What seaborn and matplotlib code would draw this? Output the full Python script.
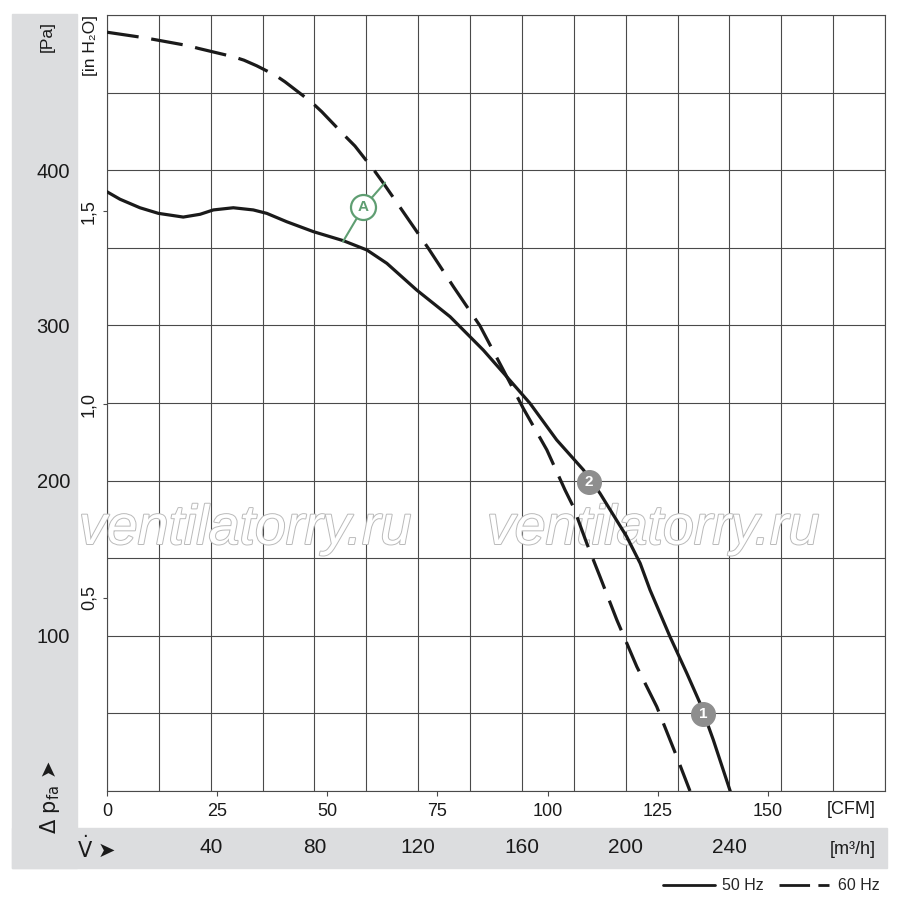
import numpy as np
import pandas as pd
import matplotlib
matplotlib.use("Agg")
import matplotlib.pyplot as plt
import matplotlib.patheffects as pe
from matplotlib.lines import Line2D
from matplotlib.patches import Rectangle
import seaborn as sns

# 50 Hz curve (solid), flow in m3/h, pressure in Pa
flow_50 = [0, 5.0, 12.7, 19.8, 29.4, 35.9, 41.0, 48.7, 56.4, 61.6, 69.3, 79.6,
           91.1, 100.2, 107.9, 119.4, 132.3, 145.1, 152.8, 163.1, 173.4, 183.7,
           190.1, 200.4, 205.6, 209.4, 217.1, 223.6, 228.7, 233.8, 240.3]
dp_50 = [386.1, 381.3, 375.8, 372.2, 369.8, 371.6, 374.4, 375.8, 374.4, 372.2,
         366.8, 360.4, 354.6, 348.6, 340.0, 322.8, 305.6, 284.1, 269.5, 249.8,
         226.2, 206.9, 191.8, 163.9, 146.7, 129.5, 99.4, 75.8, 56.5, 32.9, 0]

# 60 Hz curve (dashed)
flow_60 = [0, 13.4, 17.9, 31.4, 35.2, 48.7, 52.8, 57.7, 64.8, 68.6, 78.9, 82.8,
           91.8, 95.6, 103.4, 106.6, 113.7, 123.9, 133.6, 143.8, 152.8, 160.5,
           169.6, 176.6, 179.8, 185.0, 190.1, 196.6, 204.3, 212.0, 219.7, 224.8]
dp_60 = [488.9, 485.6, 484.3, 480.2, 478.5, 473.1, 470.9, 467.3, 461.3, 457.0,
         443.8, 437.7, 422.0, 415.6, 399.0, 391.6, 374.4, 349.7, 324.9, 299.8,
         271.3, 246.6, 219.8, 194.0, 183.2, 159.6, 138.1, 110.2, 80.1, 54.3, 22.1, 0]

pa_ticks = [100, 200, 300, 400]
inh2o_ticks = [0.5, 1.0, 1.5]
inh2o_labels = ["0,5", "1,0", "1,5"]
cfm_ticks = [0, 25, 50, 75, 100, 125, 150]
m3h_labels = [40, 80, 120, 160, 200, 240]

# annotation points (m3/h, Pa)
mark_A = (98.8, 376)
mark_A_to = [(91, 354), (107.2, 392)]
mark_1 = (229.8, 49.6)
mark_2 = (185.9, 199)

sns.set_theme(style="white")
plt.rcParams["font.family"] = ["Liberation Sans Narrow", "Liberation Sans", "DejaVu Sans"]
plt.rcParams["mathtext.default"] = "regular"

W, H = 900, 901
fig = plt.figure(figsize=(9, 9.01), dpi=100)


def px(x, y):
    return x / W, 1 - y / H


# grey bands
band = "#dcdddf"
fig.patches.append(Rectangle(px(12, 868), 65 / W, 854 / H, transform=fig.transFigure,
                             color=band, zorder=-2))
fig.patches.append(Rectangle(px(12, 868), 875 / W, 40 / H, transform=fig.transFigure,
                             color=band, zorder=-2))

ax = fig.add_axes([107 / W, 1 - 791 / H, 778 / W, 776 / H])
ax.set_facecolor("white")

df50 = pd.DataFrame({"flow": flow_50, "dp": dp_50})
df60 = pd.DataFrame({"flow": flow_60, "dp": dp_60})
line_col = "#1a1a1a"
sns.lineplot(data=df50, x="flow", y="dp", ax=ax, color=line_col, lw=2.3, zorder=4)
sns.lineplot(data=df60, x="flow", y="dp", ax=ax, color=line_col, lw=2.3, zorder=4)
for ln in ax.lines:
    ln.set_solid_joinstyle("round")
    ln.set_dash_joinstyle("round")
ax.lines[-1].set_dashes((10, 4))
ax.lines[-1].set_dash_capstyle("butt")

ax.set_xlim(0, 300)
ax.set_ylim(0, 500)
ax.set_xlabel("")
ax.set_ylabel("")

grid_col = "#4a4a4a"
ax.set_xticks(range(0, 301, 20))
ax.set_xticklabels([str(v) if v in m3h_labels else "" for v in range(0, 301, 20)],
                   fontsize=15, color="#1a1a1a")
ax.set_yticks(range(0, 501, 50))
ax.set_yticklabels([str(v) if v in pa_ticks else "" for v in range(0, 501, 50)],
                   fontsize=14.5, color="#1a1a1a")
ax.tick_params(axis="x", length=0, pad=34)
ax.tick_params(axis="y", length=0, pad=26.5)
ax.grid(True, color=grid_col, lw=0.8)
for s in ax.spines.values():
    s.set_color(grid_col)
    s.set_linewidth(0.8)

# CFM axis below
cfm = ax.secondary_xaxis("bottom", functions=(lambda q: q / 1.699, lambda c: c * 1.699))
cfm.set_xticks(cfm_ticks)
cfm.set_xticklabels([str(v) for v in cfm_ticks], fontsize=13, color="#1a1a1a")
cfm.tick_params(axis="x", length=3.5, width=0.8, color=grid_col, direction="out", pad=5)
cfm.spines["bottom"].set_visible(False)

# in H2O axis on the left
inh = ax.secondary_yaxis("left", functions=(lambda p: p / 249.09, lambda h: h * 249.09))
inh.set_yticks(inh2o_ticks)
inh.set_yticklabels(inh2o_labels, fontsize=13, color="#1a1a1a", rotation=90,
                    va="center")
inh.tick_params(axis="y", length=3, width=0.8, color=grid_col, direction="out", pad=4)
inh.spines["left"].set_visible(False)

# annotations
green = "#5f9e72"
for p in mark_A_to:
    ax.plot([mark_A[0], p[0]], [mark_A[1], p[1]], color=green, lw=1.5, zorder=5)
ax.plot(*mark_A, marker="o", ms=18, mfc="white", mec=green, mew=1.6, zorder=6)
ax.text(*mark_A, "A", color=green, fontsize=11, fontweight="bold", ha="center",
        va="center", zorder=7)
for m, t in [(mark_1, "1"), (mark_2, "2")]:
    ax.plot(*m, marker="o", ms=17, mfc="#8e8e8e", mec="#8e8e8e", zorder=6)
    ax.text(*m, t, color="white", fontsize=11, fontweight="bold", ha="center",
            va="center", zorder=7)

# watermark
for xw in (245, 653):
    ax.text(*px(xw, 530), "ventilatorry.ru", transform=fig.transFigure, fontsize=40,
            style="italic", family=["Liberation Sans", "DejaVu Sans"], color="white",
            ha="center", va="center", zorder=3,
            path_effects=[pe.withStroke(linewidth=1.4, foreground="#bababa")])

# axis titles
txt = "#1a1a1a"
fig.text(*px(47, 37), "[Pa]", rotation=90, fontsize=12.5, ha="center", va="center", color=txt)
fig.text(*px(90, 45), "[in H₂O]", rotation=90, fontsize=12.5, ha="center", va="center",
         color=txt)
fig.text(*px(50, 797), "Δ p$_{fa}$ ➤", rotation=90, fontsize=15, ha="center",
         va="center", color=txt, family=["Liberation Sans Narrow", "DejaVu Sans"])
fig.text(*px(97, 848), r"$\dot{V}$ ➤", fontsize=15, ha="center", va="center", color=txt,
         family=["Liberation Sans Narrow", "DejaVu Sans"])
fig.text(*px(876, 810), "[CFM]", fontsize=13, ha="right", va="center", color=txt)
fig.text(*px(876, 849), "[m³/h]", fontsize=13, ha="right", va="center", color=txt)

handles = [Line2D([], [], color=line_col, lw=2),
           Line2D([], [], color=line_col, lw=2, dashes=(11, 3, 4, 100))]
fig.legend(handles, ["50 Hz", "60 Hz"], loc="center right", bbox_to_anchor=px(880, 886),
           ncol=2, frameon=False, fontsize=11.5, handlelength=3.3, handletextpad=0.4,
           columnspacing=1.0, borderpad=0, borderaxespad=0)

fig.savefig("out.png", dpi=100)
